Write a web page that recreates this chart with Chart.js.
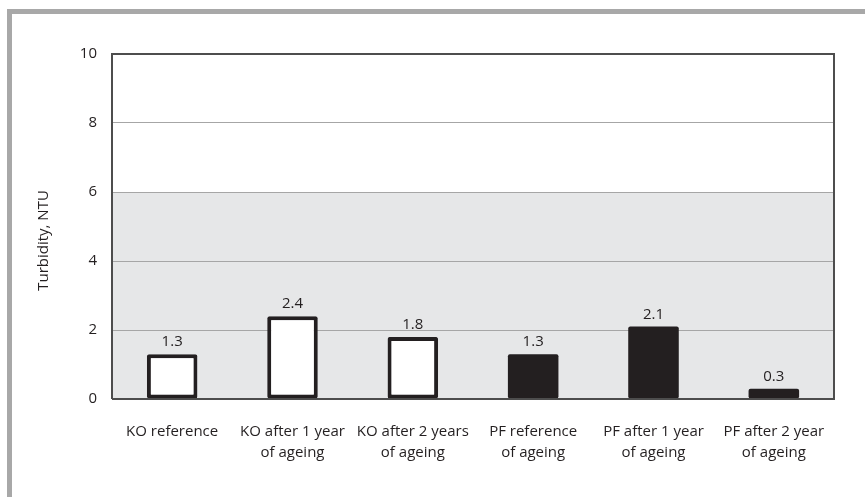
<!DOCTYPE html>
<html>
<head>
<meta charset="utf-8">
<script src="https://cdn.jsdelivr.net/npm/chart.js@4"></script>
<style>
  html, body { margin: 0; padding: 0; background: #fff; }
  #wrap { position: relative; width: 865px; height: 497px; overflow: hidden; }
  #frame { position: absolute; left: 7px; top: 9px; width: 900px; height: 600px;
           border-left: 5px solid #a8a8a8; border-top: 5px solid #a8a8a8; box-sizing: border-box; }
  canvas { position: absolute; left: 0; top: 0; }
</style>
</head>
<body>
<div id="wrap">
  <div id="frame"></div>
  <canvas id="c" width="865" height="497"></canvas>
</div>
<script>
const categories = [
  'KO reference',
  ['KO after 1 year', 'of ageing'],
  ['KO after 2 years', 'of ageing'],
  ['PF reference', 'of ageing'],
  ['PF after 1 year', 'of ageing'],
  ['PF after 2 year', 'of ageing']
];
const turbidity = [1.3, 2.4, 1.8, 1.3, 2.1, 0.3];
const valueLabels = ['1.3', '2.4', '1.8', '1.3', '2.1', '0.3'];
const barFill = ['#ffffff', '#ffffff', '#ffffff', '#231f20', '#231f20', '#231f20'];
const barBorder = [4, 4, 4, 0, 0, 0];
const yTicks = [0, 2, 4, 6, 8, 10];
const shadedBand = [0, 6];
const yTitle = 'Turbidity, NTU';

const FONT = "'Open Sans', 'Liberation Sans', sans-serif";
const TXT = '#231f20';
const FS = 15;

const bandPlugin = {
  id: 'band',
  beforeDraw(chart) {
    const { ctx, chartArea: a, scales: { y } } = chart;
    const y0 = y.getPixelForValue(shadedBand[0]);
    const y1 = y.getPixelForValue(shadedBand[1]);
    ctx.save();
    ctx.fillStyle = '#e6e7e8';
    ctx.fillRect(a.left, y1, a.right - a.left, y0 - y1);
    ctx.restore();
  },
  afterDraw(chart) {
    const { ctx, chartArea: a } = chart;
    ctx.save();
    ctx.strokeStyle = '#4d4d4d';
    ctx.lineWidth = 2;
    ctx.beginPath();
    ctx.moveTo(a.left, a.bottom);
    ctx.lineTo(a.left, a.top);
    ctx.lineTo(a.right, a.top);
    ctx.lineTo(a.right, a.bottom);
    ctx.lineTo(a.left, a.bottom);
    ctx.stroke();
    // y axis title
    ctx.translate(44, (a.top + a.bottom) / 2 + 14);
    ctx.rotate(-Math.PI / 2);
    ctx.font = FS + 'px ' + FONT;
    ctx.fillStyle = TXT;
    ctx.textAlign = 'center';
    ctx.textBaseline = 'middle';
    ctx.fillText(yTitle, 0, 0);
    ctx.restore();
  }
};

const labelPlugin = {
  id: 'vlabels',
  afterDatasetsDraw(chart) {
    const { ctx } = chart;
    const meta = chart.getDatasetMeta(0);
    ctx.save();
    ctx.font = FS + 'px ' + FONT;
    ctx.fillStyle = TXT;
    ctx.textAlign = 'center';
    ctx.textBaseline = 'middle';
    meta.data.forEach((bar, i) => {
      ctx.fillText(valueLabels[i], bar.x, bar.y - 12);
    });
    ctx.restore();
  }
};

new Chart(document.getElementById('c'), {
  type: 'bar',
  data: {
    labels: categories,
    datasets: [{
      data: turbidity,
      backgroundColor: barFill,
      borderColor: '#231f20',
      borderWidth: barBorder,
      borderRadius: 2,
      borderSkipped: false,
      barPercentage: 0.42,
      categoryPercentage: 1.0
    }]
  },
  options: {
    responsive: false,
    animation: false,
    devicePixelRatio: 1,
    layout: { padding: { left: 30, right: 31, top: 54, bottom: 18 } },
    plugins: { legend: { display: false }, tooltip: { enabled: false } },
    scales: {
      x: {
        grid: { display: false, drawTicks: false },
        border: { display: false },
        ticks: { color: TXT, font: { family: FONT, size: FS, lineHeight: 1.4 }, padding: 22, maxRotation: 0, autoSkip: false },
        afterFit(s) { s.height = 80; }
      },
      y: {
        min: 0, max: 10,
        afterBuildTicks(s) { s.ticks = yTicks.map(v => ({ value: v })); },
        grid: { color: '#a6a6a6', lineWidth: 1, drawTicks: false },
        border: { display: false },
        ticks: { color: TXT, font: { family: FONT, size: FS }, padding: 15 },
        afterFit(s) { s.width = 82; }
      }
    }
  },
  plugins: [bandPlugin, labelPlugin]
});
</script>
</body>
</html>
